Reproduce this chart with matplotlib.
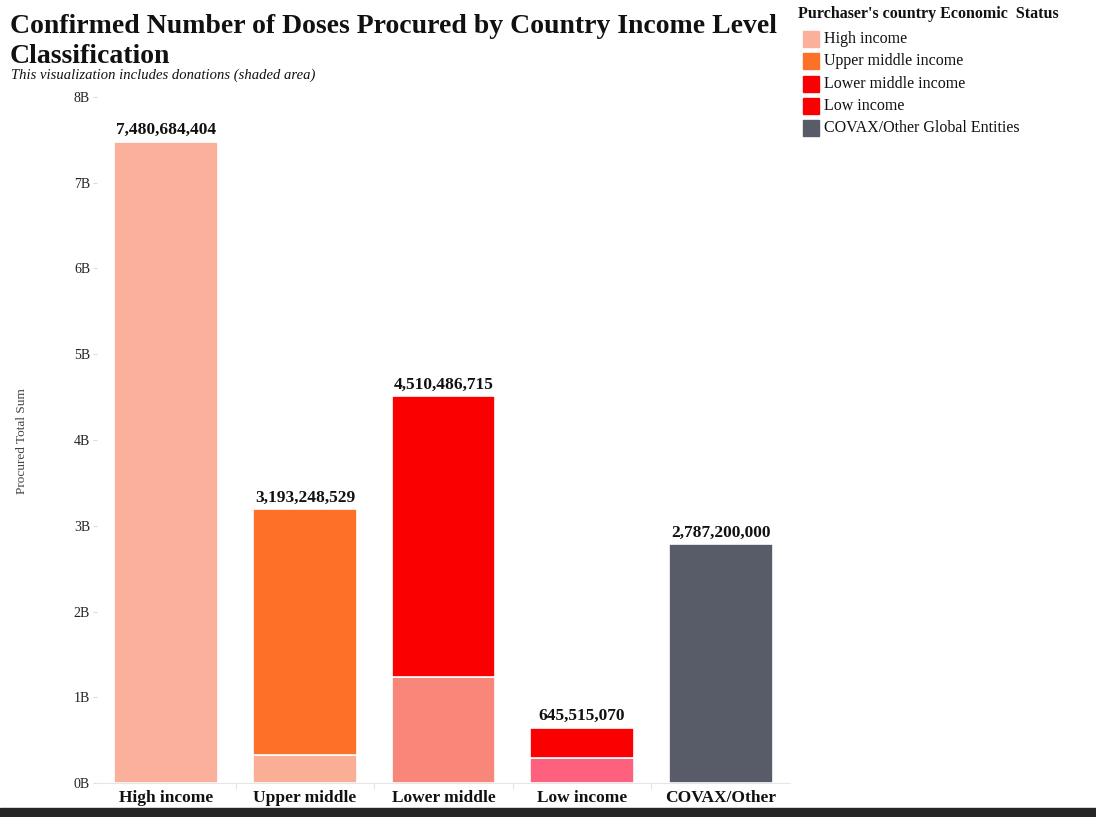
import matplotlib.pyplot as plt
from matplotlib.patches import Rectangle
import numpy as np

# doses procured per income group, and the donated part of each bar
categories = ["High income", "Upper middle\nincome", "Lower middle\nincome",
              "Low income", "COVAX/Other\nGlobal Entities"]
totals = [7480684404, 3193248529, 4510486715, 645515070, 2787200000]
donated = [0, 0.33e9, 1.24e9, 0.29e9, 0]
legend_labels = ["High income", "Upper middle income", "Lower middle income",
                 "Low income", "COVAX/Other Global Entities"]
y_ticks = [0, 1e9, 2e9, 3e9, 4e9, 5e9, 6e9, 7e9, 8e9]
y_tick_labels = ["0B", "1B", "2B", "3B", "4B", "5B", "6B", "7B", "8B"]

main_colors = ["#FAB09A", "#FD7028", "#FB0000", "#FB0000", "#585C68"]
shade_colors = ["#FAB09A", "#FBAE96", "#F8877A", "#FD617E", "#585C68"]

serif = "Liberation Serif"
plt.rcParams["font.family"] = [serif, "DejaVu Serif"]

fig = plt.figure(figsize=(10.96, 8.17), dpi=100)
ax = fig.add_axes([0.0885, 0.0416, 0.6323, 0.8397])

x = np.arange(len(categories))
rest = [t - d for t, d in zip(totals, donated)]
ax.bar(x, donated, width=0.75, color=shade_colors, edgecolor="white", linewidth=1.2)
ax.bar(x, rest, bottom=donated, width=0.75, color=main_colors,
       edgecolor="white", linewidth=1.2)

for xi, t in zip(x, totals):
    ax.text(xi, t + 0.04e9, f"{t:,}", ha="center", va="bottom",
            fontsize=12.5, fontweight="bold", color="#111111")

ax.set_xlim(-0.5, len(categories) - 0.5)
ax.set_ylim(0, 8e9)
ax.set_yticks(y_ticks)
ax.set_yticklabels(y_tick_labels, fontsize=10, color="#222222")
ax.tick_params(axis="y", length=3, color="#dddddd", pad=2)
ax.set_xticks(x)
ax.set_xticklabels(categories, fontsize=12.5, fontweight="bold", color="#111111",
                   va="top", linespacing=1.3)
ax.set_xticks(np.arange(len(categories) - 1) + 0.5, minor=True)
ax.tick_params(axis="x", which="major", length=0, pad=5)
ax.tick_params(axis="x", which="minor", length=4, color="#dddddd")

for side in ["top", "right", "left"]:
    ax.spines[side].set_visible(False)
ax.spines["bottom"].set_color("#e6e6e6")

fig.text(0.020, 0.46, "Procured Total Sum", rotation=90, fontsize=9.5,
         color="#444444", ha="center", va="center")

fig.text(0.009, 0.983, "Confirmed Number of Doses Procured by Country Income Level\nClassification",
         fontsize=20, fontweight="bold", color="#111111", va="top", ha="left",
         linespacing=1.28)
fig.text(0.010, 0.908, "This visualization includes donations (shaded area)",
         fontsize=10.5, style="italic", color="#111111", va="center", ha="left")

# legend
fig.text(0.728, 0.983, "Purchaser's country Economic  Status", fontsize=11.5,
         fontweight="bold", color="#111111", va="center", ha="left")
for i, (lab, col) in enumerate(zip(legend_labels, main_colors)):
    yc = 1 - (39 + 22.3 * i) / 817
    fig.patches.append(Rectangle((803 / 1096, yc - 8 / 817), 16 / 1096, 16 / 817,
                                 transform=fig.transFigure, color=col, figure=fig))
    fig.text(824 / 1096, yc, lab, fontsize=11.5, color="#111111",
             va="center", ha="left")

# dark strip along the bottom edge
fig.patches.append(Rectangle((0, 0), 1, 9 / 817, transform=fig.transFigure,
                             color="#262626", zorder=10, figure=fig))

fig.savefig("out.png", dpi=100)
